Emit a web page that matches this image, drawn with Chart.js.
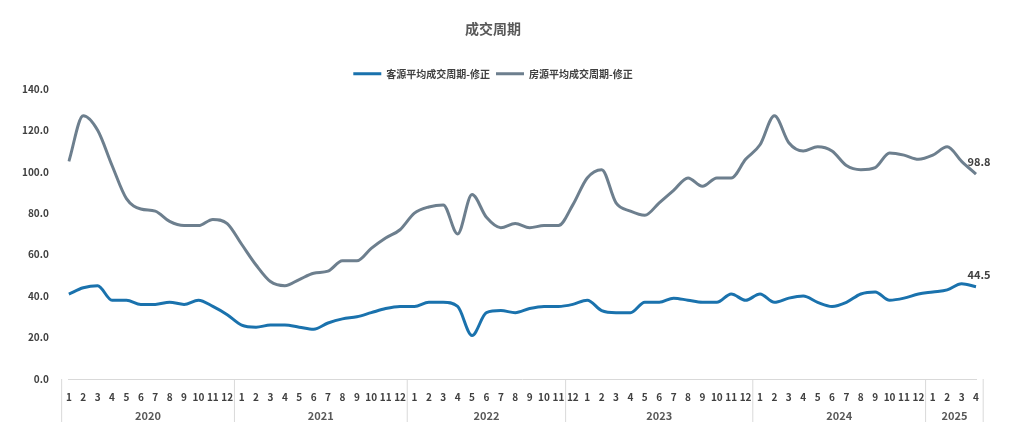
<!DOCTYPE html><html><head><meta charset="utf-8">
<script src="https://cdn.jsdelivr.net/npm/chart.js@4"></script>
<style>body{margin:0;background:#fff}#w{width:1014px;height:435px}</style></head><body><div id="w"><canvas id="c"></canvas></div>
<script>
const years=['2020','2021','2022','2023','2024','2025'];
const yearCounts=[12,12,11,13,12,4];
const months=['1','2','3','4','5','6','7','8','9','10','11','12','1','2','3','4','5','6','7','8','9','10','11','12','1','2','3','4','5','6','7','8','9','10','11','12','1','2','3','4','5','6','7','8','9','10','11','12','1','2','3','4','5','6','7','8','9','10','11','12','1','2','3','4'];
const buyerCycle=[41,44,45,38,38,36,36,37,36,38,35,31,26,25,26,26,25,24,27,29,30,32,34,35,35,37,37,35,21,32,33,32,34,35,35,36,38,33,32,32,37,37,39,38,37,37,41,38,41,37,39,40,37,35,37,41,42,38,39,41,42,43,46,44.5];
const listingCycle=[105,127,120,103,87,82,81,76,74,74,77,75,65,55,47,45,48,51,52,57,57,63,68,72,80,83,84,70,89,78,73,75,73,74,74,84,97,101,85,81,79,85,91,97,93,97,97,106,113,127,114,110,112,110,103,101,102,109,108,106,108,112,105,98.8];
const seriesNames=['客源平均成交周期-修正','房源平均成交周期-修正'];
const F='"Microsoft YaHei","Noto Sans CJK SC",sans-serif';
const yearPlugin={id:'yr',afterDraw(ch){const x=ch.scales.x,ctx=ch.ctx,a=ch.chartArea;const step=x.getPixelForValue(1)-x.getPixelForValue(0);let s=0;ctx.save();ctx.strokeStyle='#d9d9d9';ctx.lineWidth=1;ctx.font='bold 11px '+F;ctx.fillStyle='#595959';ctx.textAlign='center';
const b0=x.getPixelForValue(0)-step/2;ctx.beginPath();ctx.moveTo(b0,a.bottom);ctx.lineTo(b0,422);ctx.stroke();
years.forEach((y,i)=>{const st=x.getPixelForValue(s)-step/2;const en=x.getPixelForValue(s+yearCounts[i]-1)+step/2;ctx.beginPath();ctx.moveTo(en,a.bottom);ctx.lineTo(en,422);ctx.stroke();ctx.fillText(y,(st+en)/2,416);s+=yearCounts[i];});ctx.restore();}};
const endLabel={id:'el',afterDatasetsDraw(ch){const ctx=ch.ctx;ctx.save();ctx.font='bold 11px '+F;ctx.fillStyle='#404040';ch.data.datasets.forEach((d,i)=>{const m=ch.getDatasetMeta(i).data;const p=m[m.length-1];ctx.textAlign='center';ctx.fillText(d.data[d.data.length-1].toFixed(1),p.x+3,p.y-12);});ctx.restore();}};
new Chart(document.getElementById('c'),{type:'line',data:{labels:months,datasets:[
{label:seriesNames[0],data:buyerCycle,borderColor:'#1a72ad',borderWidth:3,pointRadius:0,tension:0.4,cubicInterpolationMode:'monotone'},
{label:seriesNames[1],data:listingCycle,borderColor:'#6d7f8e',borderWidth:3,pointRadius:0,tension:0.4,cubicInterpolationMode:'monotone'}]},
options:{responsive:true,maintainAspectRatio:false,animation:false,layout:{padding:{left:10,right:38,bottom:28,top:0}},
plugins:{title:{display:true,text:'成交周期',color:'#595959',font:{family:F,size:14,weight:'bold'},padding:{top:20,bottom:26}},
legend:{labels:{boxWidth:28,boxHeight:0,color:'#404040',font:{family:F,size:10,weight:'bold'},padding:6},
onClick:null},tooltip:{enabled:false}},
scales:{x:{grid:{display:false},border:{color:'#d9d9d9'},ticks:{color:'#404040',font:{family:F,size:10,weight:'bold'},maxRotation:0,autoSkip:false,padding:4}},
y:{min:0,max:140,grid:{display:false},border:{display:false},ticks:{stepSize:20,color:'#404040',font:{family:F,size:10,weight:'bold'},callback:v=>v.toFixed(1),padding:12}}}},
plugins:[yearPlugin,endLabel]});
</script></body></html>
